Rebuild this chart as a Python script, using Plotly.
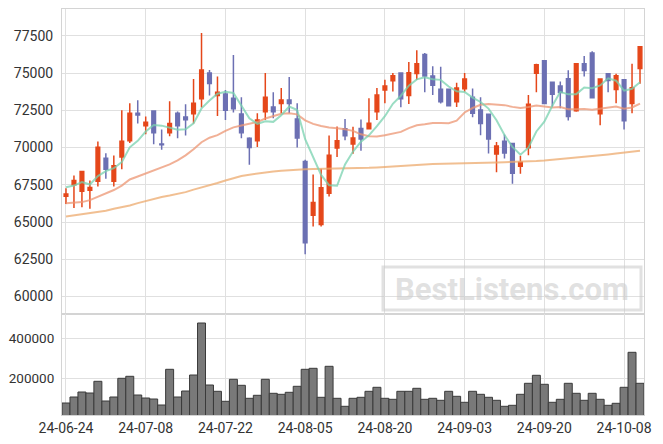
import pandas as pd
import plotly.graph_objects as go

dates = ["24-06-24","24-06-25","24-06-26","24-06-27","24-06-28",
         "24-07-01","24-07-02","24-07-03","24-07-04","24-07-05",
         "24-07-08","24-07-09","24-07-10","24-07-11","24-07-12",
         "24-07-15","24-07-16","24-07-17","24-07-18","24-07-19",
         "24-07-22","24-07-23","24-07-24","24-07-25","24-07-26",
         "24-07-29","24-07-30","24-07-31","24-08-01","24-08-02",
         "24-08-05","24-08-06","24-08-07","24-08-08","24-08-09",
         "24-08-12","24-08-13","24-08-14","24-08-16","24-08-19",
         "24-08-20","24-08-21","24-08-22","24-08-23","24-08-26",
         "24-08-27","24-08-28","24-08-29","24-08-30","24-09-02",
         "24-09-03","24-09-04","24-09-05","24-09-06","24-09-09",
         "24-09-10","24-09-11","24-09-12","24-09-13","24-09-19",
         "24-09-20","24-09-23","24-09-24","24-09-25","24-09-26",
         "24-09-27","24-09-30","24-10-02","24-10-04","24-10-07",
         "24-10-08","24-10-10","24-10-11"]

opens = [66730, 67500, 67070, 67130, 67740, 69280, 67740, 69370, 70450, 72300,
         71470, 72450, 70240, 71000, 72300, 72050, 72270, 73280, 75000, 73490,
         73600, 73310, 72250, 70630, 70450, 72410, 72720, 72950, 73200, 71910,
         69070, 65450, 64840, 66930, 69970, 71270, 70240, 71280, 71260, 72410,
         73870, 74480, 75000, 73490, 74970, 76240, 74800, 73920, 73920, 73080,
         73940, 73380, 72520, 72230, 69570, 70430, 70270, 68750, 69990, 74990,
         75830, 74390, 74130, 74620, 72470, 75630, 76350, 72270, 74950, 73890,
         74550, 72950, 75310]
highs = [67270, 68130, 68400, 67790, 70400, 69620, 69460, 72500, 72970, 73180,
         72080, 72460, 71220, 73110, 72420, 72910, 74600, 77690, 75200, 74770,
         73870, 76220, 73380, 70700, 72300, 75000, 73720, 73990, 74730, 72970,
         69190, 68200, 68580, 70810, 71420, 71910, 71390, 71890, 73310, 73990,
         74550, 75000, 75020, 75740, 76530, 76350, 75450, 75430, 73940, 74350,
         75000, 73970, 73370, 72240, 70380, 70870, 70290, 69450, 73530, 75630,
         75850, 74400, 74430, 75190, 75650, 76140, 76460, 74620, 74980, 74950,
         74560, 75630, 76780]
lows = [66220, 65950, 66000, 65900, 67390, 67910, 67390, 68550, 70300, 71620,
        70900, 70220, 69860, 70760, 70630, 70810, 71620, 72690, 73490, 72120,
        71850, 72350, 70630, 68850, 70040, 71850, 71960, 72300, 72300, 70000,
        62840, 64700, 64700, 66710, 69370, 70490, 69580, 69780, 71240, 71850,
        72970, 73760, 72700, 72930, 74550, 73720, 73530, 72960, 72760, 72720,
        73740, 72030, 70830, 69600, 68350, 69260, 67570, 68250, 69480, 73720,
        72930, 72740, 72640, 71810, 72400, 74770, 73330, 71490, 73720, 72970,
        71220, 72300, 74280]
closes = [66890, 67790, 68400, 67320, 70020, 68550, 68780, 70430, 72300, 72180,
          71700, 70990, 70190, 71620, 71460, 71870, 72980, 75210, 74300, 73720,
          72500, 72610, 70990, 70000, 71850, 73380, 72410, 73200, 72950, 70650,
          63620, 66320, 67300, 69480, 70450, 70800, 70650, 70580, 71630, 73530,
          74140, 74820, 73280, 75020, 75630, 74800, 74190, 73080, 72800, 73990,
          74600, 72300, 71610, 70580, 70100, 69640, 68280, 69010, 72910, 75560,
          72950, 73580, 73690, 72080, 75630, 75180, 73350, 74600, 74500, 74820,
          71800, 74010, 76760]
volumes = [76500, 106500, 131500, 126500, 185000, 86500, 106500, 200000, 210000, 116500,
           101500, 96500, 66500, 245000, 106500, 136500, 216500, 476500, 166500, 135000,
           85000, 195000, 165000, 100000, 115000, 195000, 125000, 120000, 130000, 160000,
           245000, 250000, 105000, 260000, 100000, 60000, 100000, 105000, 135000, 155000,
           100000, 95000, 135000, 135000, 150000, 95000, 100000, 90000, 135000, 110000,
           80000, 135000, 120000, 105000, 90000, 60000, 65000, 120000, 175000, 215000,
           170000, 80000, 95000, 175000, 125000, 90000, 125000, 95000, 65000, 75000,
           155000, 330000, 175000]

# moving-average values whose window reaches before the first shown day
ma5_head = [67340, 67450, 67680, 67520]
ma20_head = [66270, 66280, 66340, 66470, 66710, 66950, 67150, 67450, 67860, 68060,
             68260, 68470, 68640, 68870, 69140, 69480, 69885, 70360, 70660]
ma_long = [65380, 65450, 65510, 65580, 65660, 65760, 65900, 66000, 66115, 66270,
           66420, 66570, 66680, 66780, 66890, 67010, 67180, 67320, 67450, 67620,
           67790, 67960, 68095, 68175, 68265, 68330, 68400, 68445, 68490, 68520,
           68550, 68570, 68575, 68580, 68590, 68595, 68600, 68620, 68640, 68670,
           68710, 68745, 68775, 68810, 68850, 68870, 68890, 68910, 68920, 68930,
           68950, 68965, 68980, 68995, 69005, 69020, 69030, 69040, 69060, 69095,
           69130, 69175, 69230, 69290, 69340, 69380, 69425, 69480, 69535, 69595,
           69655, 69715, 69785]

tick_dates = ["24-06-24", "24-07-08", "24-07-22", "24-08-05",
              "24-08-20", "24-09-03", "24-09-20", "24-10-08"]

cs = pd.Series(closes)
ma5 = ma5_head + cs.rolling(5).mean().round(0).tolist()[4:]
ma20 = ma20_head + cs.rolling(20).mean().round(0).tolist()[19:]

UP = "#E5471A"
DOWN = "#6C70B3"
FONT = "Roboto"

fig = go.Figure()

fig.add_trace(go.Scatter(x=dates, y=ma_long, mode="lines",
                         line=dict(color="rgba(236,170,110,0.75)", width=2),
                         xaxis="x", yaxis="y", hoverinfo="skip"))
fig.add_trace(go.Scatter(x=dates, y=ma20, mode="lines",
                         line=dict(color="rgba(236,150,115,0.75)", width=2),
                         xaxis="x", yaxis="y", hoverinfo="skip"))
fig.add_trace(go.Scatter(x=dates, y=ma5, mode="lines",
                         line=dict(color="rgba(120,210,175,0.75)", width=2),
                         xaxis="x", yaxis="y", hoverinfo="skip"))

fig.add_trace(go.Candlestick(
    x=dates, open=opens, high=highs, low=lows, close=closes,
    increasing=dict(line=dict(color=UP, width=1.5), fillcolor=UP),
    decreasing=dict(line=dict(color=DOWN, width=1.5), fillcolor=DOWN),
    whiskerwidth=0, xaxis="x", yaxis="y"))

fig.add_trace(go.Bar(x=dates, y=volumes, width=1,
                     marker=dict(color="#797979", line=dict(color="#3a3a3a", width=1)),
                     xaxis="x2", yaxis="y2"))

grid = "#e0e0e0"
frame = "#d4d4d4"
tickfont = dict(family=FONT, size=14, color="#333333")
volfont = dict(family=FONT, size=13.5, color="#333333")

# the page body adds an 8px offset; compensate in size and margins
OFF = 8
W, H = 663 - OFF, 444 - OFF
L, R, T, B = 62 - OFF, 19, 9 - OFF, 29
plot_w = W - L - R
plot_h = H - T - B
vol_frac = 101 / plot_h

fig.update_layout(
    width=W, height=H,
    margin=dict(l=L, r=R, t=T, b=B, autoexpand=False),
    paper_bgcolor="white", plot_bgcolor="white",
    showlegend=False,
    boxgap=0.35,
    xaxis=dict(type="category", domain=[0, 1], anchor="y", range=[-0.5, len(dates) - 0.5],
               rangeslider=dict(visible=False), showticklabels=False,
               tickmode="array", tickvals=tick_dates,
               showgrid=True, gridcolor=grid, gridwidth=1,
               showline=True, linecolor=frame, mirror=True, ticks=""),
    yaxis=dict(domain=[vol_frac, 1], anchor="x", range=[58830, 79300],
               dtick=2500, tick0=0, tickformat="d",
               showgrid=True, gridcolor=grid, gridwidth=1,
               showline=True, linecolor=frame, mirror=True, ticks="",
               tickfont=tickfont, ticklabelstandoff=5, zeroline=False),
    xaxis2=dict(type="category", domain=[0, 1], anchor="y2", matches="x",
                range=[-0.5, len(dates) - 0.5],
                tickmode="array", tickvals=tick_dates, ticktext=tick_dates,
                showgrid=True, gridcolor=grid, gridwidth=1,
                showline=True, linecolor=frame, mirror=True, ticks="",
                tickfont=tickfont, tickangle=0),
    yaxis2=dict(domain=[0, vol_frac], anchor="x2", range=[16500, 521500],
                tickvals=[200000, 400000], tickformat="d",
                showgrid=True, gridcolor=grid, gridwidth=1,
                showline=True, linecolor=frame, mirror=True, ticks="",
                tickfont=volfont, ticklabelstandoff=4, zeroline=False),
)

# watermark (pixel positions relative to the plot area)
def px_x(x):
    return (x - 62) / plot_w

def px_y(y):
    return (415 - y) / plot_h

fig.add_shape(type="rect", xref="paper", yref="paper",
              x0=px_x(383), x1=px_x(641), y0=px_y(310), y1=px_y(267),
              line=dict(color="rgba(200,200,200,0.55)", width=3),
              fillcolor="rgba(0,0,0,0)", layer="above")
fig.add_annotation(text="<b>BestListens.com</b>", xref="paper", yref="paper",
                   x=px_x(512), y=px_y(289),
                   showarrow=False, xanchor="center", yanchor="middle",
                   font=dict(family=FONT, size=31, color="rgba(200,200,200,0.55)"))

fig.write_html("out.html")
